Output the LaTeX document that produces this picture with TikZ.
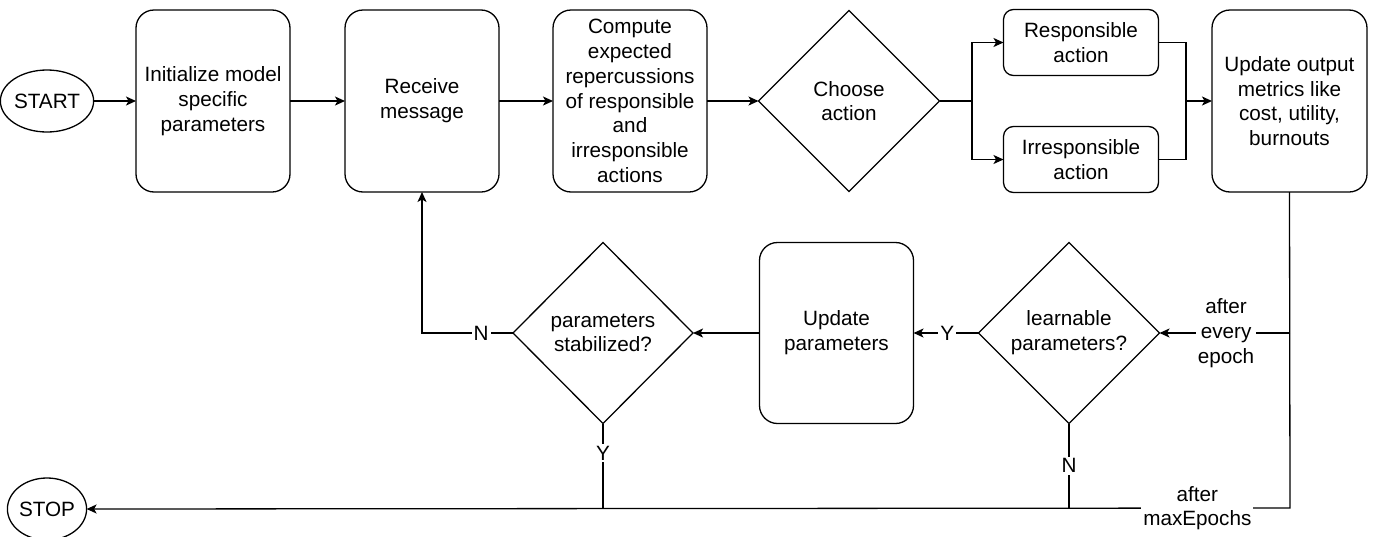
\documentclass[tikz,border=0pt]{standalone}
\usepackage{fontspec}
\setmainfont{Liberation Sans}
\usetikzlibrary{shapes.geometric,arrows.meta}
\begin{document}
\begin{tikzpicture}[x=1pt,y=-1pt,
  every node/.style={font=\fontsize{20.7}{24.8}\selectfont, inner sep=0pt, outer sep=0pt},
  line/.style={line width=1.3pt},
  arr/.style={line width=1.3pt, -{Stealth[length=10pt,width=9pt,inset=2.5pt]}},
  tall/.style={draw, line width=1.3pt, rounded corners=18pt, minimum width=154pt, minimum height=182pt, align=center},
  small/.style={draw, line width=1.3pt, rounded corners=10pt, minimum width=155pt, minimum height=66pt, align=center},
  dia/.style={draw, line width=1.3pt, diamond, minimum width=181pt, minimum height=181pt},
  term/.style={draw, line width=1.3pt, ellipse, minimum width=78pt, minimum height=62pt},
  lbl/.style={fill=white, inner sep=2pt, align=center}
]
\useasboundingbox (0,0) rectangle (1374,536);

% top row
\node[term] (start) at (47,101) {START};
\node[tall] (init) at (213,101) {Initialize model\\specific\\parameters};
\node[tall] (recv) at (422,101) {Receive\\message};
\node[tall] (comp) at (630,101) {Compute\\expected\\repercussions\\of responsible\\and\\irresponsible\\actions};
\node[dia] (choose) at (849,101) {};
\node[align=center] at (choose) {Choose\\action};
\node[small] (resp) at (1081,42.5) {Responsible\\action};
\node[small] (irr) at (1081,159.5) {Irresponsible\\action};
\node[tall, minimum width=155pt] (upd) at (1289.5,101) {Update output\\metrics like\\cost, utility,\\burnouts};

% bottom row
\node[dia] (learn) at (1069,333) {};
\node[align=center] at (learn) {learnable\\parameters?};
\node[tall, minimum height=181pt] (updp) at (836.5,333) {Update\\parameters};
\node[dia, minimum width=180pt] (stab) at (603,333) {};
\node[align=center] at (stab) {parameters\\stabilized?};
\node[term] (stop) at (47,509) {STOP};

\coordinate (split) at (972,101);
\coordinate (merge) at (1186,101);
\coordinate (down) at (1290,333);
\coordinate (corner) at (1290,508);

% connectors
\draw[arr] (start) -- (init);
\draw[arr] (init) -- (recv);
\draw[arr] (recv) -- (comp);
\draw[arr] (comp) -- (choose);
\draw[line] (choose.east) -- (split);
\draw[arr] (split) |- (resp.west);
\draw[arr] (split) |- (irr.west);
\draw[line] (resp.east) -| (merge);
\draw[line] (irr.east) -| (merge);
\draw[arr] (merge) -- (upd.west);

\draw[arr] (upd.south) -- (corner) -- node[lbl, pos=0.077] {after\\maxEpochs} (stop.east);
\draw[arr] (down) -- node[lbl, pos=0.49] {after\\every\\epoch} (learn.east);
\draw[arr] (learn.west) -- node[lbl, pos=0.48] {Y} (updp.east);
\draw[arr] (updp.west) -- (stab.east);
\draw[arr] (stab.west) -- node[lbl, pos=0.35] {N} (recv.south |- stab.west) -- (recv.south);
\draw[line] (stab.south) -- node[lbl, pos=0.35] {Y} (stab.south |- corner);
\draw[line] (learn.south) -- node[lbl, pos=0.5] {N} (learn.south |- corner);
\end{tikzpicture}
\end{document}
